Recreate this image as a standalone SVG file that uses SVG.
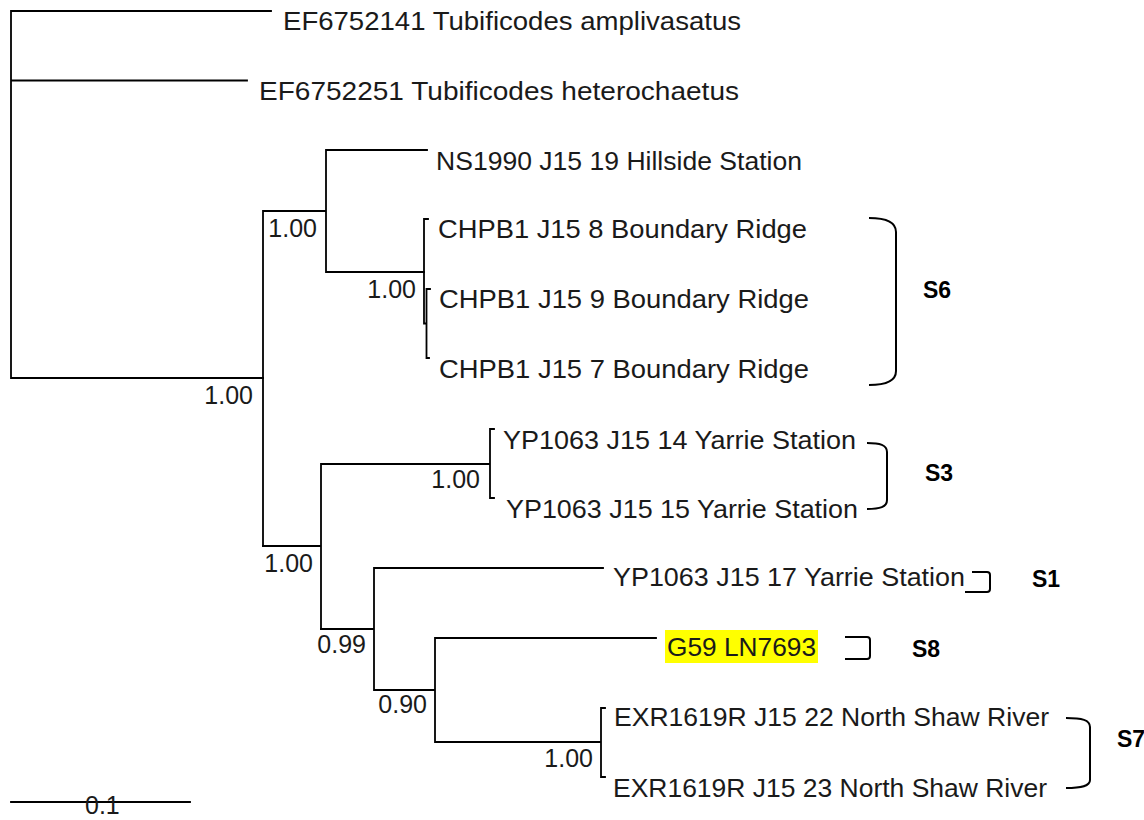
<svg xmlns="http://www.w3.org/2000/svg" width="1144" height="820" viewBox="0 0 1144 820">
<style>
.br{fill:none;stroke:#000;stroke-width:1.8;stroke-linecap:square}
.bk{fill:none;stroke:#000;stroke-width:2}
.lab{font-family:"Liberation Sans",Arial,sans-serif;font-size:25px;fill:#1a1a1a}
.sup{font-family:"Liberation Sans",Arial,sans-serif;font-size:25px;fill:#1a1a1a;text-anchor:end}
.grp{font-family:"Liberation Sans",Arial,sans-serif;font-size:23px;font-weight:bold;fill:#000}
</style>
<rect width="1144" height="820" fill="#fff"/>
<g id="connectors">
<path class="br" d="M11,11V378 M11,11H271 M11,80.5H247 M11,378H263"/>
<path class="br" d="M263,211V546 M263,211H326 M326,150V272 M326,150H427 M326,272H424"/>
<path class="br" d="M424,219V323.5 M424,219H428 M424,323.5H426.5 M426.5,289V358 M426.5,289H430 M426.5,358H429"/>
<path class="br" d="M263,546H321 M321,464V629 M321,464H490 M490,429V498 M490,429H494 M490,498H494"/>
<path class="br" d="M321,629H374 M374,568V690 M374,568H603 M374,690H435 M435,638V742 M435,638H656 M435,742H601 M601,708V777 M601,708H605 M601,777H605"/>
<path class="br" d="M11,802H190"/>
</g>
<g id="n-ef6752141"><text class="lab" x="283" y="30" textLength="458" lengthAdjust="spacingAndGlyphs">EF6752141 Tubificodes amplivasatus</text></g>
<g id="n-ef6752251"><text class="lab" x="259" y="100" textLength="480" lengthAdjust="spacingAndGlyphs">EF6752251 Tubificodes heterochaetus</text></g>
<g id="n-ns1990"><text class="lab" x="436" y="170" textLength="366" lengthAdjust="spacingAndGlyphs">NS1990 J15 19 Hillside Station</text></g>
<g id="n-chpb1-8"><text class="lab" x="438" y="238" textLength="369" lengthAdjust="spacingAndGlyphs">CHPB1 J15 8 Boundary Ridge</text></g>
<g id="n-chpb1-9"><text class="lab" x="439" y="308" textLength="370" lengthAdjust="spacingAndGlyphs">CHPB1 J15 9 Boundary Ridge</text></g>
<g id="n-chpb1-7"><text class="lab" x="439" y="378" textLength="370" lengthAdjust="spacingAndGlyphs">CHPB1 J15 7 Boundary Ridge</text></g>
<g id="n-yp1063-14"><text class="lab" x="503" y="449" textLength="353" lengthAdjust="spacingAndGlyphs">YP1063 J15 14 Yarrie Station</text></g>
<g id="n-yp1063-15"><text class="lab" x="506" y="518" textLength="352" lengthAdjust="spacingAndGlyphs">YP1063 J15 15 Yarrie Station</text></g>
<g id="n-yp1063-17"><text class="lab" x="613" y="586" textLength="352" lengthAdjust="spacingAndGlyphs">YP1063 J15 17 Yarrie Station</text></g>
<g id="n-g59"><rect x="665" y="630" width="153" height="33" fill="#ffff00"/><text class="lab" x="667" y="656" textLength="149" lengthAdjust="spacingAndGlyphs">G59 LN7693</text></g>
<g id="n-exr-22"><text class="lab" x="614" y="726" textLength="435" lengthAdjust="spacingAndGlyphs">EXR1619R J15 22 North Shaw River</text></g>
<g id="n-exr-23"><text class="lab" x="613" y="797" textLength="434" lengthAdjust="spacingAndGlyphs">EXR1619R J15 23 North Shaw River</text></g>
<g id="support">
<text class="sup" x="253" y="404">1.00</text>
<text class="sup" x="317" y="237">1.00</text>
<text class="sup" x="416" y="298">1.00</text>
<text class="sup" x="313" y="572">1.00</text>
<text class="sup" x="480" y="488">1.00</text>
<text class="sup" x="366" y="653">0.99</text>
<text class="sup" x="427" y="713">0.90</text>
<text class="sup" x="593" y="767">1.00</text>
</g>
<g id="scale"><text class="lab" x="85" y="814">0.1</text></g>
<g id="g-s6"><path class="bk" d="M869,218C885,218 896,222 896,232V371C896,381 885,385 869,385"/><text class="grp" x="923" y="298">S6</text></g>
<g id="g-s3"><path class="bk" d="M867,443C880,443 887,445 887,452V500C887,507 880,509 867,509"/><text class="grp" x="925" y="481">S3</text></g>
<g id="g-s1"><path class="bk" d="M972,572H987Q990,572 990,575V589Q990,592 987,592H965"/><text class="grp" x="1032" y="587">S1</text></g>
<g id="g-s8"><path class="bk" d="M845,637H867Q870,637 870,640V656Q870,659 867,659H845"/><text class="grp" x="912" y="657">S8</text></g>
<g id="g-s7"><path class="bk" d="M1066,718C1082,718 1090,720 1090,727V780C1090,786 1082,788 1066,788"/><text class="grp" x="1117" y="747">S7</text></g>
</svg>
